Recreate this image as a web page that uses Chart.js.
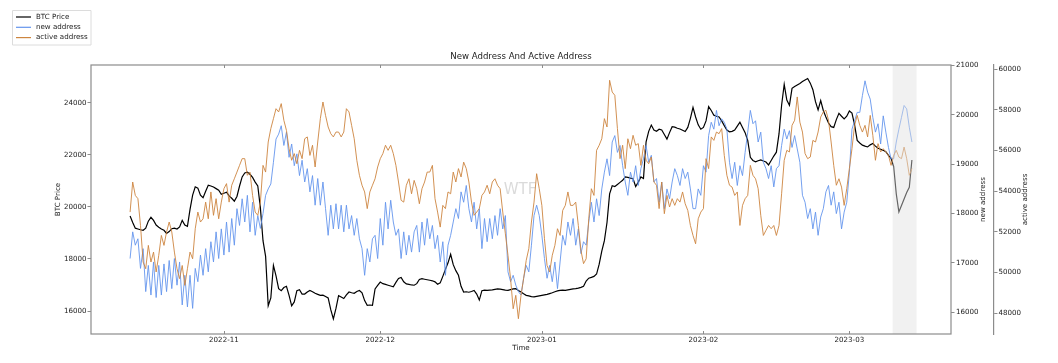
<!DOCTYPE html>
<html>
<head>
<meta charset="utf-8">
<script src="https://cdn.jsdelivr.net/npm/chart.js@4.4.0/dist/chart.umd.min.js"></script>
<style>
  html, body { margin: 0; padding: 0; background: #fff; }
  canvas { display: block; }
</style>
</head>
<body>
<canvas id="chart" width="1058" height="363"></canvas>
<script>
// time axis: days after 2022-10-01, one sample every 12 hours from 2022-10-14
var firstDay = 13;
var stepDays = 0.5;
var tickDays = [31, 61, 92, 123, 151];
var tickLabels = ["2022-11", "2022-12", "2023-01", "2023-02", "2023-03"];
var shadeDays = [159.3, 163.9];

var btcTicks = [16000, 18000, 20000, 22000, 24000];
var newTicks = [16000, 17000, 18000, 19000, 20000, 21000];
var activeTicks = [48000, 50000, 52000, 54000, 56000, 58000, 60000];

var btcPrice = [
  19650,19400,19180,19150,19120,19100,19180,19450,19600,19480,
  19300,19220,19150,19100,18980,19050,19160,19180,19150,19230,
  19480,19300,19250,19900,20450,20770,20720,20450,20350,20600,
  20830,20800,20760,20700,20640,20480,20520,20560,20420,20330,
  20220,20400,20800,21150,21300,21330,21250,21130,20950,20800,
  19960,18700,18100,16200,16500,17750,17350,16860,16780,16900,
  16950,16600,16200,16350,16780,16820,16650,16650,16730,16790,
  16740,16680,16640,16600,16610,16560,16500,16050,15700,16100,
  16590,16540,16480,16620,16730,16700,16680,16750,16790,16700,
  16400,16220,16230,16220,16850,16980,17110,17050,17020,16990,
  16960,16930,17100,17250,17290,17120,17040,17020,17000,16990,
  17050,17210,17240,17220,17200,17180,17160,17120,17030,17080,
  17330,17600,17850,18180,17780,17550,17370,16950,16730,16740,
  16720,16750,16790,16650,16420,16780,16800,16790,16800,16810,
  16830,16850,16840,16820,16800,16790,16820,16850,16860,16790,
  16730,16660,16600,16580,16550,16540,16560,16580,16600,16620,
  16640,16670,16700,16740,16770,16790,16800,16790,16810,16830,
  16850,16860,16880,16910,16950,17150,17260,17290,17330,17420,
  17800,18300,18700,19400,20500,20810,20780,20860,20940,21020,
  21150,21130,21100,21080,20780,20950,21150,21090,22500,22900,
  23140,22950,22900,22980,22950,22780,22600,22850,23080,23060,
  23020,22990,22940,22890,23050,23400,23820,23450,23150,22980,
  23050,23300,23850,23700,23520,23480,23450,23300,23120,22950,
  22880,22900,22950,23100,23250,23050,22850,22550,21900,21780,
  21730,21770,21800,21760,21720,21610,21780,21950,22100,22800,
  23900,24700,24100,23900,24550,24620,24680,24740,24810,24870,
  24930,24750,24500,24040,23720,24080,23700,23450,23220,23080,
  23050,23350,23590,23480,23380,23480,23680,23600,23150,22550,
  22450,22370,22330,22300,22380,22430,22330,22250,22210,22170,
  22120,21980,21860,21550,20500,19800,20050,20300,20550,20750,
  21800
];

var newAddress = [
  17090,17630,17360,17490,16890,17290,16420,16950,16350,17020,
  16300,16950,16350,16980,16420,17050,16480,17090,16550,17020,
  16150,16750,16110,16750,16080,16890,16620,17160,16750,17290,
  16820,17430,17020,17630,17090,17690,17160,17830,17220,17900,
  17360,18100,17760,18300,17830,18370,17630,18230,17560,17960,
  17700,18000,18370,18500,18600,19040,19510,19610,19780,19380,
  19650,19140,19410,18970,19210,18770,19080,18640,18910,18440,
  18770,18170,18710,18170,18640,18100,17560,18170,17690,18200,
  17690,18170,17630,18170,17690,17960,17560,17900,17490,17290,
  16750,17290,17020,17490,17560,17090,17900,17360,18230,17690,
  18270,17830,17560,17690,17090,17630,17160,17560,17220,17630,
  17760,17220,17830,17360,17900,17490,17760,17290,17560,17020,
  17430,16750,17360,17560,17830,18100,17900,18440,18230,18570,
  18100,17830,18230,17690,18100,17290,17900,17430,17900,17490,
  17960,17560,18100,17690,17960,16820,16620,16750,16550,16420,
  16350,16690,16950,16820,17360,17960,18170,17960,17560,17090,
  16690,16950,16620,17020,16480,17020,17560,17360,17830,17560,
  17900,17360,17690,17190,17430,17360,17830,18230,17830,18300,
  17960,18500,18840,19110,18770,19450,19580,19240,19380,18970,
  18640,18370,18840,18640,18970,18570,18910,19110,19380,19040,
  19180,18640,18710,18230,18640,18100,18500,18300,18640,18910,
  18770,18570,18910,18710,18840,18500,18100,18100,18500,18370,
  18970,18840,19580,19850,19710,20090,19780,19920,19850,19710,
  19040,18710,19040,18570,18970,18770,19240,19650,20090,19820,
  19880,19450,19650,19040,18910,18710,18970,18540,18910,18970,
  19380,19710,19510,19680,19340,19580,19310,19040,18370,18230,
  17900,18100,17690,18030,17560,17930,18100,18440,18570,18170,
  18440,18000,18230,17690,18030,18230,18840,19710,19880,20050,
  20050,20390,20690,20460,20320,19950,19650,19820,19410,19980,
  19650,19340,19110,19110,19450,19710,19950,20190,20120,19750,
  19450
];

var activeAddress = [
  52970,54450,53790,53630,52310,50510,50180,51330,50510,51000,
  50020,50840,51820,51330,51990,52480,51990,51000,50180,49690,
  50340,49360,50180,51000,50670,52150,52970,52480,52640,53460,
  52640,53960,52810,53630,52640,53460,54120,54370,53460,54290,
  54610,54940,55270,55600,55600,54780,54940,53790,52970,52810,
  53460,55270,54940,56420,57080,57570,58060,57900,58310,57490,
  56990,56090,55520,55850,55350,56010,55600,56580,56670,55760,
  56260,55190,56420,57570,58390,57730,57160,56830,56670,56910,
  56910,56670,56910,58060,57900,57240,56580,55520,54780,54290,
  53960,53140,53960,54290,54610,55190,55600,55850,56260,56010,
  56260,55850,55270,54450,53550,53460,54290,54610,53870,54530,
  54120,53380,54120,54450,54940,54940,55270,53630,52970,52230,
  53300,53140,53960,53870,54940,54450,55110,54700,55430,55110,
  54450,53460,52810,52970,53140,53790,53960,54290,53870,54450,
  54610,54290,54120,52970,51900,50840,49690,48210,48870,47720,
  48870,49690,50590,51170,52480,53460,54860,54120,53300,51660,
  50340,50020,50840,51330,52150,51820,53050,53300,53960,53300,
  53300,53460,52310,51080,50430,50670,52640,54120,53790,56010,
  56260,56580,57570,57160,59460,58880,58720,57080,55600,56260,
  55110,56580,56090,56750,56260,56340,55270,56260,55520,55350,
  55680,54450,54290,53140,54450,52890,53790,53220,53630,53300,
  53630,53460,53960,53380,53050,52310,51820,51410,52640,52970,
  53140,55600,55110,56670,56500,56910,56830,57080,55760,54780,
  54290,54200,53790,53960,52310,53300,53630,53790,55270,54780,
  54610,54120,52810,51820,52070,52310,52150,52310,51820,52310,
  53870,55520,56010,55930,57240,57490,58640,57400,56910,55850,
  55600,55680,56500,56420,56910,57650,57900,57980,57490,56420,
  55270,54290,54610,54200,53300,54120,55110,56090,57240,57730,
  57240,56910,57240,56670,57730,56750,55520,56340,55930,56090,
  55930,55760,55270,55760,56010,55680,55600,56170,55600,54780,
  55110
];

var days = btcPrice.map(function (_, i) { return firstDay + i * stepDays; });
function pairs(values) {
  return values.map(function (v, i) { return { x: days[i], y: v }; });
}

var frameColor = "#8c8c8c";
var textColor = "#222";
var fontFamily = "'DejaVu Sans', sans-serif";

Chart.defaults.font.family = fontFamily;
Chart.defaults.color = textColor;

// extra drawing: watermark, shaded band, frame, title, legend, axis titles
var decorations = {
  id: "decorations",
  beforeDatasetsDraw: function (chart) {
    var ctx = chart.ctx;
    ctx.save();
    ctx.font = "15px " + fontFamily;
    ctx.fillStyle = "rgba(150,150,150,0.35)";
    ctx.textAlign = "center";
    ctx.textBaseline = "middle";
    ctx.fillText("WTF", 520, 190);
    ctx.restore();
  },
  afterDatasetsDraw: function (chart) {
    var ctx = chart.ctx;
    var a = chart.chartArea;
    var xs = chart.scales.x;
    ctx.save();
    var s0 = xs.getPixelForValue(shadeDays[0]);
    var s1 = xs.getPixelForValue(shadeDays[1]);
    ctx.fillStyle = "rgba(225,225,225,0.45)";
    ctx.fillRect(s0, a.top, s1 - s0, a.bottom - a.top);

    ctx.strokeStyle = frameColor;
    ctx.lineWidth = 1.2;
    ctx.strokeRect(a.left, a.top, a.right - a.left, a.bottom - a.top);

    ctx.lineWidth = 1;
    tickDays.forEach(function (d) {
      var px = Math.round(xs.getPixelForValue(d)) + 0.5;
      ctx.beginPath();
      ctx.moveTo(px, a.bottom);
      ctx.lineTo(px, a.bottom - 3);
      ctx.moveTo(px, a.top);
      ctx.lineTo(px, a.top + 3);
      ctx.stroke();
    });
    ctx.restore();
  },
  afterDraw: function (chart) {
    var ctx = chart.ctx;
    var a = chart.chartArea;
    var midY = (a.top + a.bottom) / 2;
    var midX = (a.left + a.right) / 2;
    ctx.save();
    ctx.fillStyle = textColor;
    ctx.textAlign = "center";
    ctx.textBaseline = "middle";

    ctx.font = "8.6px " + fontFamily;
    ctx.fillText("New Address And Active Address", midX, 57);

    ctx.font = "7.1px " + fontFamily;
    ctx.fillText("Time", midX, 348);

    [["BTC Price", 58], ["new address", 983], ["active address", 1025.5]].forEach(function (t) {
      ctx.save();
      ctx.translate(t[1], midY);
      ctx.rotate(-Math.PI / 2);
      ctx.fillText(t[0], 0, 0);
      ctx.restore();
    });

    // legend
    ctx.fillStyle = "rgba(255,255,255,0.8)";
    ctx.strokeStyle = "#dcdcdc";
    ctx.lineWidth = 1;
    ctx.beginPath();
    ctx.rect(12.5, 10.5, 78.5, 34.5);
    ctx.fill();
    ctx.stroke();
    ctx.textAlign = "left";
    chart.data.datasets.forEach(function (ds, i) {
      var y = 17 + i * 10.3;
      ctx.strokeStyle = ds.borderColor;
      ctx.lineWidth = 1.2;
      ctx.beginPath();
      ctx.moveTo(16, y);
      ctx.lineTo(31, y);
      ctx.stroke();
      ctx.fillStyle = textColor;
      ctx.fillText(ds.label, 36, y);
    });
    ctx.restore();
  }
};

var tickFont = { size: 7.1 };

new Chart(document.getElementById("chart").getContext("2d"), {
  type: "line",
  data: {
    datasets: [
      {
        label: "BTC Price",
        data: pairs(btcPrice),
        yAxisID: "y",
        borderColor: "#000000",
        borderWidth: 1.2,
        pointRadius: 0,
        order: 3
      },
      {
        label: "new address",
        data: pairs(newAddress),
        yAxisID: "y1",
        borderColor: "#6495ED",
        borderWidth: 0.9,
        pointRadius: 0,
        order: 2
      },
      {
        label: "active address",
        data: pairs(activeAddress),
        yAxisID: "y2",
        borderColor: "#CD853F",
        borderWidth: 0.9,
        pointRadius: 0,
        order: 1
      }
    ]
  },
  options: {
    responsive: false,
    devicePixelRatio: 1,
    animation: false,
    events: [],
    layout: { padding: { top: 65, left: 0, right: 0, bottom: 0 } },
    plugins: {
      legend: { display: false },
      title: { display: false },
      tooltip: { enabled: false }
    },
    scales: {
      x: {
        type: "linear",
        min: 5.5,
        max: 170.5,
        afterBuildTicks: function (s) { s.ticks = tickDays.map(function (v) { return { value: v }; }); },
        afterFit: function (s) { s.height = 29; },
        grid: { display: false, drawTicks: false },
        border: { display: false },
        ticks: {
          padding: 2,
          maxRotation: 0,
          autoSkip: false,
          font: tickFont,
          callback: function (v) { var k = tickDays.indexOf(v); return k < 0 ? "" : tickLabels[k]; }
        }
      },
      y: {
        type: "linear",
        position: "left",
        min: 15117,
        max: 25447,
        afterBuildTicks: function (s) { s.ticks = btcTicks.map(function (v) { return { value: v }; }); },
        afterFit: function (s) { s.width = 91; },
        grid: { drawOnChartArea: false, tickLength: 3.5, color: frameColor },
        border: { display: false },
        ticks: { padding: 1, font: tickFont, callback: function (v) { return String(v); } }
      },
      y1: {
        type: "linear",
        position: "right",
        weight: 0,
        min: 15561,
        max: 21010,
        afterBuildTicks: function (s) { s.ticks = newTicks.map(function (v) { return { value: v }; }); },
        afterFit: function (s) { s.width = 43; },
        grid: { drawOnChartArea: false, tickLength: 3.5, color: frameColor },
        border: { display: false },
        ticks: { padding: 1.5, font: tickFont, callback: function (v) { return String(v); } }
      },
      y2: {
        type: "linear",
        position: "right",
        weight: 1,
        min: 46966,
        max: 60212,
        afterBuildTicks: function (s) { s.ticks = activeTicks.map(function (v) { return { value: v }; }); },
        afterFit: function (s) { s.width = 64; },
        grid: { drawOnChartArea: false, tickLength: 3.5, color: frameColor },
        border: { display: true, color: frameColor, width: 1.2 },
        ticks: { padding: 1, font: tickFont, callback: function (v) { return String(v); } }
      }
    }
  },
  plugins: [decorations]
});
</script>
</body>
</html>
